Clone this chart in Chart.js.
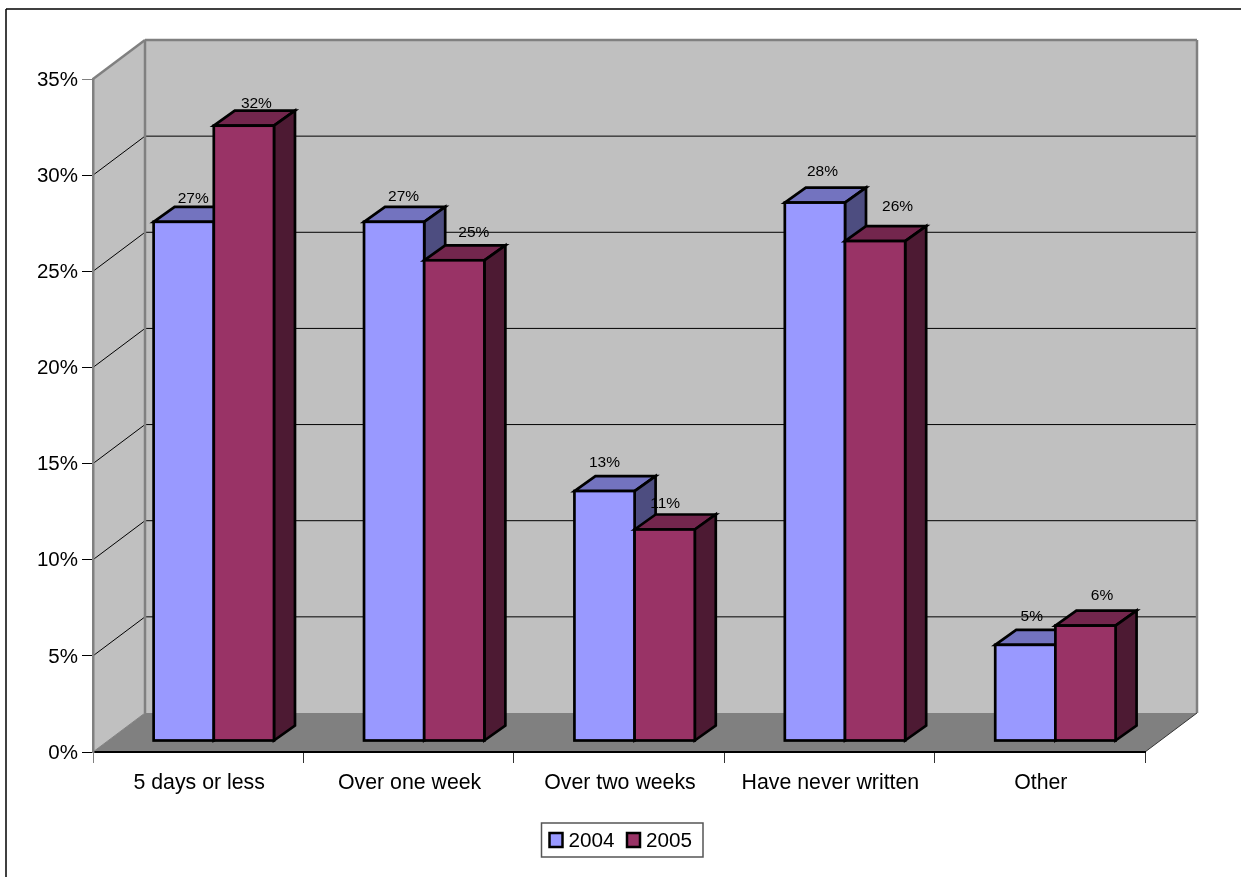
<!DOCTYPE html>
<html>
<head>
<meta charset="utf-8">
<title>Chart</title>
<script src="https://cdn.jsdelivr.net/npm/chart.js@4/dist/chart.umd.min.js"></script>
<style>
    html, body { margin: 0; padding: 0; background: #fff; overflow: hidden; }
    canvas { display: block; }
</style>
</head>
<body>
<canvas id="chart" width="1241" height="877"></canvas>
<script>
const categories = ['5 days or less', 'Over one week', 'Over two weeks', 'Have never written', 'Other'];
const values2004 = [27, 27, 13, 28, 5];
const values2005 = [32, 25, 11, 26, 6];

const FONT = '"Liberation Sans", Arial, sans-serif';
// floor depth of the fake 3D box, bars sit a bit inside it
const BOX = { x: 52, y: -39 };
const BAR_SHIFT = { x: 15.6, y: -11 };
const BAR_DEPTH = { x: 21, y: -15 };
const BAR_LINE = 2.7;
// hand-placed label offsets from the centre of the bar top, the old chart had them scattered
const labelNudge = [
    [[9.5, -23], [12.5, -22]],
    [[9.5, -25], [19.5, -28]],
    [[0, -28], [0.5, -26]],
    [[7.5, -31], [22.5, -34]],
    [[6.5, -28], [16.5, -30]]
];

function poly(ctx, pts, fill, stroke, width) {
    ctx.beginPath();
    pts.forEach((p, i) => i ? ctx.lineTo(p[0], p[1]) : ctx.moveTo(p[0], p[1]));
    ctx.closePath();
    if (fill) {
        ctx.fillStyle = fill;
        ctx.fill();
    }
    if (stroke) {
        ctx.strokeStyle = stroke;
        ctx.lineWidth = width;
        ctx.lineJoin = 'miter';
        ctx.stroke();
    }
}

function line(ctx, x1, y1, x2, y2, color, width) {
    ctx.beginPath();
    ctx.moveTo(x1, y1);
    ctx.lineTo(x2, y2);
    ctx.strokeStyle = color;
    ctx.lineWidth = width;
    ctx.stroke();
}

const boxPlugin = {
    id: 'box3d',
    beforeDraw(chart) {
        const ctx = chart.ctx;
        const a = chart.chartArea;
        const y = chart.scales.y;
        ctx.save();
        // page frame
        line(ctx, 6, 9, 1241, 9, '#000', 1.5);
        line(ctx, 6, 9, 6, 877, '#000', 1.5);
        // walls and floor
        poly(ctx, [[a.left + BOX.x, a.top + BOX.y], [a.right + BOX.x, a.top + BOX.y], [a.right + BOX.x, a.bottom + BOX.y], [a.left + BOX.x, a.bottom + BOX.y]], '#C0C0C0');
        poly(ctx, [[a.left, a.top], [a.left + BOX.x, a.top + BOX.y], [a.left + BOX.x, a.bottom + BOX.y], [a.left, a.bottom]], '#C0C0C0');
        poly(ctx, [[a.left, a.bottom], [a.right, a.bottom], [a.right + BOX.x, a.bottom + BOX.y], [a.left + BOX.x, a.bottom + BOX.y]], '#808080');
        // gridlines on the side and back wall
        y.ticks.forEach(t => {
            if (t.value === 0 || t.value === y.max) return;
            const py = y.getPixelForValue(t.value);
            line(ctx, a.left, py, a.left + BOX.x, py + BOX.y, '#000', 1);
            line(ctx, a.left + BOX.x, py + BOX.y, a.right + BOX.x, py + BOX.y, '#000', 1);
        });
        // wall edges
        ctx.lineJoin = 'miter';
        line(ctx, a.left, a.top, a.left + BOX.x, a.top + BOX.y, '#808080', 2.5);
        line(ctx, a.left + BOX.x, a.top + BOX.y, a.right + BOX.x, a.top + BOX.y, '#808080', 2.5);
        line(ctx, a.left + BOX.x, a.top + BOX.y, a.left + BOX.x, a.bottom + BOX.y, '#808080', 2.5);
        line(ctx, a.right + BOX.x, a.top + BOX.y, a.right + BOX.x, a.bottom + BOX.y, '#808080', 2.5);
        line(ctx, a.left, a.bottom, a.left + BOX.x, a.bottom + BOX.y, '#808080', 1);
        line(ctx, a.right, a.bottom, a.right + BOX.x, a.bottom + BOX.y, '#333', 1);
        ctx.restore();
    },
    // the library paints the right-hand bar first, here 2005 has to land on top of 2004
    beforeDatasetsDraw(chart) {
        const ctx = chart.ctx;
        ctx.save();
        ctx.translate(BAR_SHIFT.x, BAR_SHIFT.y);
        chart.data.datasets.forEach((ds, di) => {
            const meta = chart.getDatasetMeta(di);
            meta.data.forEach(bar => {
                const l = bar.x - bar.width / 2;
                const r = bar.x + bar.width / 2;
                const dx = BAR_DEPTH.x;
                const dy = BAR_DEPTH.y;
                poly(ctx, [[l, bar.y], [l + dx, bar.y + dy], [r + dx, bar.y + dy], [r, bar.y]], ds.topColor, '#000', BAR_LINE);
                poly(ctx, [[r, bar.y], [r + dx, bar.y + dy], [r + dx, bar.base + dy], [r, bar.base]], ds.sideColor, '#000', BAR_LINE);
            });
            meta.controller.draw();
            meta.data.forEach(bar => {
                ctx.strokeStyle = '#000';
                ctx.lineWidth = BAR_LINE;
                ctx.lineJoin = 'miter';
                ctx.strokeRect(bar.x - bar.width / 2, bar.y, bar.width, bar.base - bar.y);
            });
        });
        ctx.restore();
    },
    beforeDatasetDraw() {
        return false;
    },
    afterDatasetsDraw(chart) {
        const ctx = chart.ctx;
        ctx.save();
        ctx.font = '15.5px ' + FONT;
        ctx.fillStyle = '#000';
        ctx.textAlign = 'center';
        ctx.textBaseline = 'middle';
        chart.data.datasets.forEach((ds, di) => {
            chart.getDatasetMeta(di).data.forEach((bar, i) => {
                const n = labelNudge[i][di];
                ctx.fillText(ds.data[i] + '%', bar.x + BAR_SHIFT.x + n[0], bar.y + BAR_SHIFT.y + n[1]);
            });
        });
        ctx.restore();
    },
    afterDraw(chart) {
        // legend box, drawn by hand because the native one spaces swatch and text too far apart
        const ctx = chart.ctx;
        ctx.save();
        ctx.fillStyle = '#fff';
        ctx.strokeStyle = '#555';
        ctx.lineWidth = 1.5;
        ctx.fillRect(541.5, 823, 161.5, 34);
        ctx.strokeRect(541.5, 823, 161.5, 34);
        ctx.font = '20.7px ' + FONT;
        ctx.textBaseline = 'middle';
        ctx.textAlign = 'left';
        chart.data.datasets.forEach((ds, i) => {
            const x = 549.5 + i * 77.5;
            ctx.fillStyle = ds.backgroundColor;
            ctx.fillRect(x, 833, 13, 14);
            ctx.strokeStyle = '#000';
            ctx.lineWidth = 2.5;
            ctx.strokeRect(x, 833, 13, 14);
            ctx.fillStyle = '#000';
            ctx.fillText(ds.label, x + 19, 841);
        });
        ctx.restore();
    }
};

new Chart(document.getElementById('chart'), {
    type: 'bar',
    data: {
        labels: categories,
        datasets: [
            {
                label: '2004',
                data: values2004,
                clip: false,
                backgroundColor: '#9999FF',
                topColor: '#7373BF',
                sideColor: '#4D4D80',
                borderWidth: 0
            },
            {
                label: '2005',
                data: values2005,
                clip: false,
                backgroundColor: '#993366',
                topColor: '#73264D',
                sideColor: '#4D1A33',
                borderWidth: 0
            }
        ]
    },
    options: {
        responsive: false,
        animation: false,
        events: [],
        layout: { padding: { left: 0, top: 79, right: 96, bottom: 0 } },
        datasets: { bar: { categoryPercentage: 0.572, barPercentage: 1 } },
        plugins: {
            legend: { display: false },
            tooltip: { enabled: false }
        },
        scales: {
            x: {
                afterFit: scale => { scale.height = 125; },
                border: { color: '#000', width: 2 },
                grid: {
                    drawOnChartArea: false,
                    tickLength: 11,
                    tickWidth: 1,
                    tickColor: ctx => ctx.index === 0 ? '#808080' : '#333'
                },
                ticks: {
                    color: '#000',
                    font: { family: FONT, size: 21.3 },
                    maxRotation: 0,
                    padding: 7,
                    labelOffset: 1
                }
            },
            y: {
                min: 0,
                max: 35,
                afterFit: scale => { scale.width = 93; },
                border: { color: '#808080', width: 2.5 },
                grid: {
                    drawOnChartArea: false,
                    tickLength: 11,
                    tickWidth: 1,
                    tickColor: ctx => ctx.tick && ctx.tick.value === 35 ? '#808080' : '#000'
                },
                ticks: {
                    stepSize: 5,
                    color: '#000',
                    font: { family: FONT, size: 20.5 },
                    padding: 4,
                    labelOffset: 1,
                    callback: v => v + '%'
                }
            }
        }
    },
    plugins: [boxPlugin]
});
</script>
</body>
</html>
